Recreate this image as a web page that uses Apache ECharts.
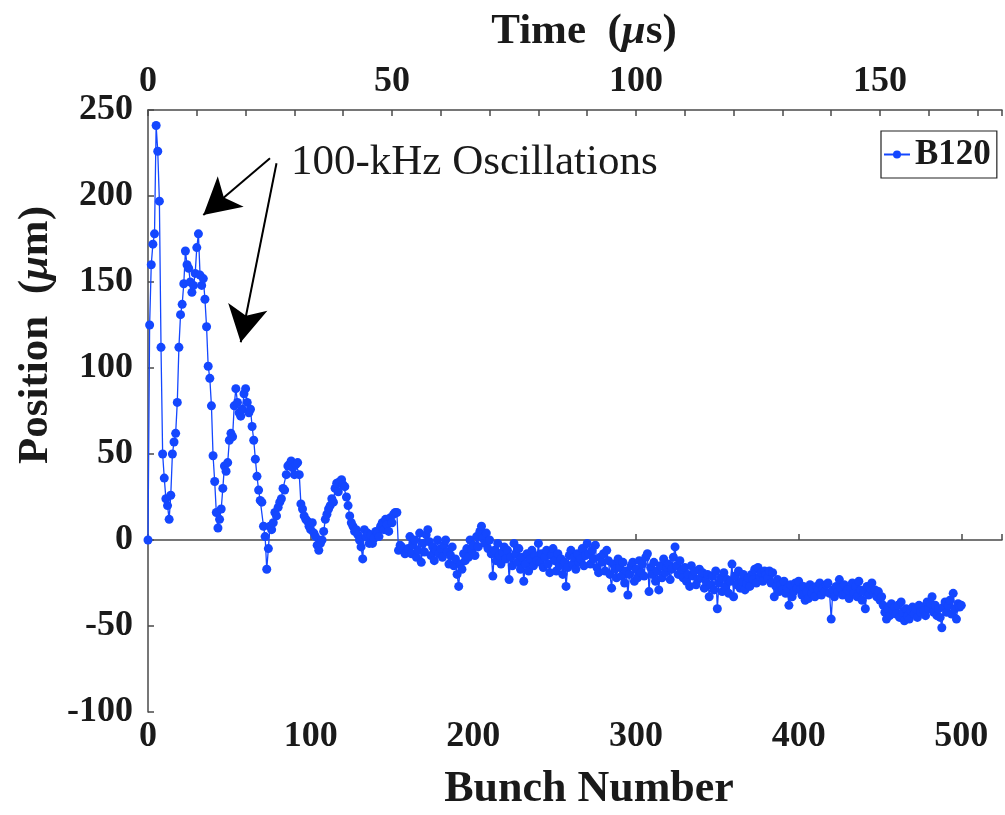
<!DOCTYPE html>
<html>
<head>
<meta charset="utf-8">
<script src="https://cdn.jsdelivr.net/npm/echarts@6/dist/echarts.min.js"></script>
<style>
  html, body { margin: 0; padding: 0; background: #fff; }
  #chart { width: 1005px; height: 815px; }
</style>
</head>
<body>
<div id="chart"></div>
<script>
// position (um) of bunch n, n = 0..500
const position = [
  0, 125, 160, 172, 178, 241, 226, 197, 112, 50,
  36, 24, 20, 12, 26, 50, 57, 62, 80, 112,
  131, 137, 149, 168, 160, 158, 150, 144, 148, 155,
  170, 178, 154, 148, 152, 140, 124, 101, 94, 78,
  49, 34, 16, 7, 12, 18, 30, 43, 40, 45,
  58, 62, 60, 78, 88, 80, 74, 72, 76, 85,
  88, 80, 74, 76, 66, 58, 47, 37, 29, 23,
  22, 8, 2, -17, -5, 8, 6, 10, 16, 14,
  19, 22, 24, 30, 29, 38, 43, 44, 46, 42,
  38, 44, 45, 38, 21, 18, 14, 12, 11, 8,
  6, 10, 4, 2, -3, -6, -2, 0, 5, 12,
  15, 18, 20, 24, 22, 30, 33, 28, 34, 35,
  32, 31, 25, 20, 14, 10, 8, 5, 6, 3,
  0, -4, -11, 6, 2, 4, -2, 3, -2, 1,
  5, 4, 2, 8, 10, 6, 12, 9, 5, 13,
  10, 15, 16, 16, -6, -3, -4, -6, -8, -7,
  -5, 2, -8, -3, 0, -10, -6, 4, -13, -2,
  -7, 3, 6, -1, -9, -4, -12, -6, 0, -8,
  -5, -10, -3, 0, -7, -14, -9, -4, -15, -11,
  -20, -27, -14, -17, -8, -12, -5, -10, 0, -6,
  -3, -9, 2, -4, 5, 8, 1, -2, 4, -5,
  0, -8, -21, -6, -12, -2, -9, -14, -7, -4,
  -11, -6, -23, -10, -15, -2, -8, -13, -5, -17,
  -10, -24, -14, -8, -18, -11, -6, -15, -9, -12,
  -2, -13, -8, -16, -10, -6, -14, -19, -9, -5,
  -12, -18, -8, -15, -11, -20, -13, -27, -16, -9,
  -6, -14, -10, -17, -8, -13, -11, -5, -15, -9,
  -2, -8, -14, -6, -11, -3, -16, -19, -10, -13,
  -8, -18, -6, -12, -20, -28, -14, -17, -22, -11,
  -16, -21, -13, -25, -18, -32, -20, -15, -13, -24,
  -17, -22, -12, -19, -14, -21, -10, -8, -30, -16,
  -20, -13, -24, -18, -29, -15, -22, -11, -19, -16,
  -14, -23, -17, -10, -4, -15, -20, -12, -18, -22,
  -16, -24, -20, -27, -15, -21, -18, -26, -23, -17,
  -22, -19, -28, -24, -20, -33, -26, -21, -29, -18,
  -40, -25, -22, -30, -19, -27, -23, -31, -24, -14,
  -33, -21, -26, -18, -28, -24, -20, -29, -25, -22,
  -27, -20, -23, -17, -25, -16, -21, -19, -24, -18,
  -20, -22, -18, -25, -19, -33, -27, -23, -30, -26,
  -29, -24, -31, -28, -38, -26, -33, -30, -25, -28,
  -24, -29, -32, -27, -35, -30, -34, -26, -31, -28,
  -33, -27, -29, -25, -32, -28, -30, -26, -25, -31,
  -46, -29, -33, -27, -30, -23, -28, -32, -26, -31,
  -29, -34, -28, -25, -31, -27, -33, -24, -29, -35,
  -30, -40, -27, -32, -28, -25, -31, -29, -33, -30,
  -35, -33, -38, -42, -46, -40, -44, -37, -41, -39,
  -43, -38, -45, -36, -42, -47, -40, -44, -46, -41,
  -39, -43, -40, -45, -38, -42, -39, -41, -44, -36,
  -40, -37, -33, -42, -38, -44, -40, -45, -51, -39,
  -36, -42, -38, -35, -43, -31, -40, -46, -37, -39,
  -38
];

const bunchTicks = [0, 100, 200, 300, 400, 500];
const timeTicks = [0, 50, 100, 150];

// arrows: [tail, head] in data coords (bunch, um)
const arrow1 = [[75, 222], [34, 189]];
const arrow2 = [[79, 219], [57, 115]];

const serif = '"Liberation Serif", "Times New Roman", serif';
const axisCol = '#4a4a4a';
const textCol = '#1a1a1a';
const blue = '#1447ff';

const chart = echarts.init(document.getElementById('chart'));

const option = {
  animation: false,
  backgroundColor: '#fff',
  grid: { left: 148, top: 110, right: -2, bottom: 103 },
  legend: {
    left: 881, top: 131,
    padding: [6, 6, 6, 2],
    itemWidth: 26, itemHeight: 10, itemGap: 6,
    borderColor: '#222', borderWidth: 1.2,
    backgroundColor: '#fff',
    textStyle: { fontFamily: serif, fontWeight: 'bold', fontSize: 35, color: textCol },
    data: ['B120']
  },
  xAxis: [
    {
      type: 'value', position: 'bottom', min: 0, max: 525, interval: 100,
      axisLine: { lineStyle: { color: axisCol, width: 1.5 } },
      axisTick: { inside: true, length: 6, lineStyle: { color: axisCol, width: 1.5 } },
      splitLine: { show: false },
      axisLabel: {
        margin: 7, fontFamily: serif, fontWeight: 'bold', fontSize: 36, color: textCol,
        formatter: v => bunchTicks.includes(v) ? String(v) : ''
      }
    },
    {
      type: 'value', position: 'top', min: 0, max: 175, interval: 10,
      axisLine: { lineStyle: { color: axisCol, width: 1.5 } },
      axisTick: { inside: true, length: 6, lineStyle: { color: axisCol, width: 1.5 } },
      splitLine: { show: false },
      axisLabel: {
        margin: 10, fontFamily: serif, fontWeight: 'bold', fontSize: 36, color: textCol,
        formatter: v => timeTicks.includes(v) ? String(v) : ''
      }
    }
  ],
  yAxis: {
    type: 'value', min: -100, max: 250, interval: 50,
    axisLine: { show: true, lineStyle: { color: axisCol, width: 1.5 } },
    axisTick: { show: true, inside: true, length: 6, lineStyle: { color: axisCol, width: 1.5 } },
    splitLine: { show: false },
    axisLabel: { margin: 15, fontFamily: serif, fontWeight: 'bold', fontSize: 36, color: textCol }
  },
  series: [{
    name: 'B120',
    type: 'line',
    xAxisIndex: 0,
    data: position.map((v, i) => [i, v]),
    symbol: 'circle', symbolSize: 9,
    itemStyle: { color: blue },
    lineStyle: { color: blue, width: 1.3 },
    markLine: {
      silent: true,
      symbol: ['none', 'arrow'],
      symbolSize: [30, 36],
      label: { show: false },
      lineStyle: { color: '#000', width: 2, type: 'solid' },
      data: [
        [{ coord: arrow1[0] }, { coord: arrow1[1] }],
        [{ coord: arrow2[0] }, { coord: arrow2[1] }]
      ]
    }
  }],
  graphic: [
    {
      type: 'text', x: 584, y: 32,
      style: {
        text: 'Time  ({i|μ}s)', align: 'center', verticalAlign: 'middle',
        fontFamily: serif, fontWeight: 'bold', fontSize: 43, fill: textCol,
        rich: { i: { fontFamily: serif, fontStyle: 'italic', fontWeight: 'bold', fontSize: 43, fill: textCol } }
      }
    },
    {
      type: 'text', x: 589, y: 790,
      style: {
        text: 'Bunch Number', align: 'center', verticalAlign: 'middle',
        fontFamily: serif, fontWeight: 'bold', fontSize: 44, fill: textCol
      }
    },
    {
      type: 'text', x: 36, y: 335, rotation: Math.PI / 2,
      style: {
        text: 'Position  ({i|μ}m)', align: 'center', verticalAlign: 'middle',
        fontFamily: serif, fontWeight: 'bold', fontSize: 43, fill: textCol,
        rich: { i: { fontFamily: serif, fontStyle: 'italic', fontWeight: 'bold', fontSize: 43, fill: textCol } }
      }
    },
    {
      type: 'text', x: 291, y: 163,
      style: {
        text: '100-kHz Oscillations', align: 'left', verticalAlign: 'middle',
        fontFamily: serif, fontSize: 43, fill: textCol
      }
    }
  ]
};

chart.setOption(option);
</script>
</body>
</html>
